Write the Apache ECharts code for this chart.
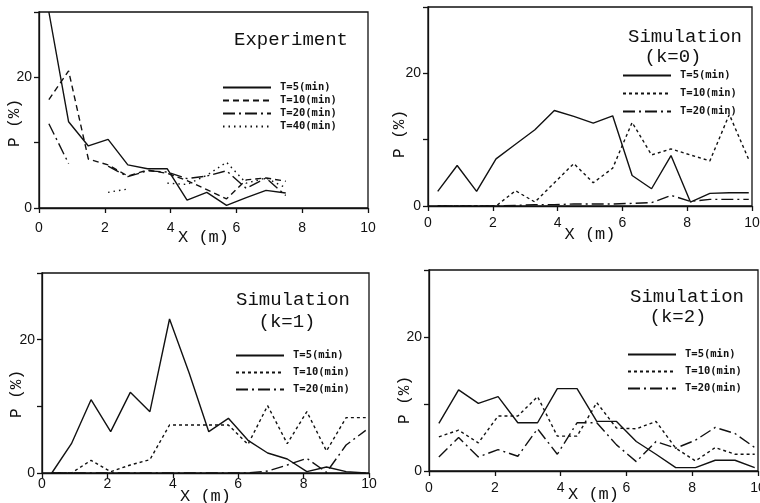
<!DOCTYPE html>
<html>
<head>
<meta charset="utf-8">
<script src="https://cdn.jsdelivr.net/npm/echarts@6/dist/echarts.min.js"></script>
<style>
  html, body { margin: 0; padding: 0; background: #fff; }
  #main { width: 760px; height: 503px; }
</style>
</head>
<body>
<div id="main"></div>
<script>
// measuring positions along the corridor (m)
const xPos = [0.3, 0.9, 1.5, 2.1, 2.7, 3.3, 3.9, 4.5, 5.1, 5.7, 6.3, 6.9, 7.5, 8.1, 8.7, 9.3, 9.9];

// Experiment
const expT5  = [30, 13.2, 9.5, 10.5, 6.6, 6.0, 6.0, 1.2, 2.4, 0.4, 1.6, 2.7, 2.3];
const expT10 = [16.6, 21.0, 7.5, 6.6, 4.9, 5.8, 5.3, 4.2, 2.8, 1.4, 4.3, 4.6, 4.1];
const expT20 = [12.9, 6.8, null, 6.4, 4.8, 5.7, 5.5, 4.5, 4.9, 5.7, 3.0, 4.6, 1.9];
const expT40 = [null, 3.4, null, 2.4, 2.9, null, 3.8, 3.6, 5.0, 7.0, 3.8, 4.6, 3.1];

// Simulation k=0
const k0T5  = [2.2, 6.1, 2.2, 7.1, 9.3, 11.5, 14.4, 13.5, 12.5, 13.6, 4.6, 2.6, 7.6, 0.6, 1.9, 2.0, 2.0];
const k0T10 = [0, 0, 0, 0, 2.3, 0.6, 3.5, 6.4, 3.5, 5.7, 12.6, 7.7, 8.6, 7.7, 6.8, 13.8, 7.0];
const k0T20 = [0, 0, 0, 0, 0.1, 0.2, 0.2, 0.3, 0.3, 0.3, 0.4, 0.5, 1.6, 0.7, 1.0, 1.0, 1.0];

// Simulation k=1
const k1T5  = [0, 4.4, 11.0, 6.2, 12.1, 9.2, 23.1, 15.0, 6.2, 8.2, 4.9, 3.0, 2.1, 0.2, 0.9, 0.2, 0];
const k1T10 = [0, 0, 1.9, 0.2, 1.2, 2.0, 7.2, 7.2, 7.2, 7.2, 4.3, 10.1, 4.4, 9.2, 3.3, 8.3, 8.3];
const k1T20 = [0, 0, 0, 0, 0, 0, 0, 0, 0, 0, 0, 0.3, 1.2, 2.2, 0.1, 4.2, 6.4];

// Simulation k=2
const k2T5  = [7.1, 12.1, 10.1, 11.1, 7.2, 7.2, 12.3, 12.3, 7.4, 7.4, 4.4, 2.5, 0.5, 0.5, 1.6, 1.6, 0.5];
const k2T10 = [5.1, 6.1, 4.2, 8.2, 8.2, 11.1, 5.2, 5.2, 10.2, 6.4, 6.3, 7.4, 3.4, 1.5, 3.5, 2.5, 2.5];
const k2T20 = [2.1, 5.0, 2.1, 3.2, 2.2, 6.3, 2.5, 7.2, 7.2, 3.9, 1.4, 4.4, 3.4, 4.6, 6.5, 5.6, 3.5];

const legendNames = ['T=5(min)', 'T=10(min)', 'T=20(min)', 'T=40(min)'];
const yShownTicks = [0, 20];
const xTicks = [0, 2, 4, 6, 8, 10];

const INK = '#111';
const SOLID = 'solid';
const DASHED = [6, 4];
const DOTTED = [3, 3];
const DASHDOT = [12, 4, 2, 4];
const SPARSE = [1.5, 4];

const grids = [
  { left: 39, top: 12, width: 329, height: 196 },
  { left: 428, top: 7, width: 324, height: 199 },
  { left: 42, top: 273, width: 327, height: 200 },
  { left: 429, top: 270, width: 329, height: 201 }
];
const labelMargins = [13, 10, 4, 10];
const nameGaps = [21, 20, 15, 15];

function pairs(vals) {
  return vals.map((v, i) => [xPos[i], v]);
}
function line(panel, label, g, vals, type) {
  return {
    name: panel + '|' + label,
    type: 'line',
    xAxisIndex: g, yAxisIndex: g,
    data: pairs(vals),
    symbol: 'none',
    connectNulls: false,
    lineStyle: { color: INK, width: 1.4, type: type },
    itemStyle: { color: INK }
  };
}

const series = [
  line('e', legendNames[0], 0, expT5, SOLID),
  line('e', legendNames[1], 0, expT10, DASHED),
  line('e', legendNames[2], 0, expT20, DASHDOT),
  line('e', legendNames[3], 0, expT40, SPARSE),
  line('a', legendNames[0], 1, k0T5, SOLID),
  line('a', legendNames[1], 1, k0T10, DOTTED),
  line('a', legendNames[2], 1, k0T20, DASHDOT),
  line('b', legendNames[0], 2, k1T5, SOLID),
  line('b', legendNames[1], 2, k1T10, DOTTED),
  line('b', legendNames[2], 2, k1T20, DASHDOT),
  line('c', legendNames[0], 3, k2T5, SOLID),
  line('c', legendNames[1], 3, k2T10, DOTTED),
  line('c', legendNames[2], 3, k2T20, DASHDOT)
];

function legend(panel, count, left, top, gap) {
  return {
    orient: 'vertical',
    left: left, top: top, padding: 0,
    itemWidth: 48, itemHeight: 8, itemGap: gap,
    selectedMode: false,
    itemStyle: { opacity: 0 },
    data: legendNames.slice(0, count).map(n => panel + '|' + n),
    formatter: n => n.split('|')[1],
    textStyle: { fontFamily: 'DejaVu Sans Mono', fontSize: 10.5, fontWeight: 'bold', color: INK, lineHeight: 10, padding: [0, 0, 0, 4] }
  };
}

const axisFont = { fontFamily: 'Liberation Sans', fontSize: 14, color: INK };

const option = {
  animation: false,
  backgroundColor: '#fff',
  grid: grids.map(g => Object.assign({ show: true, borderColor: INK, borderWidth: 1.3, containLabel: false, outerBoundsMode: 'none' }, g)),
  xAxis: grids.map((g, i) => ({
    type: 'value', gridIndex: i, min: 0, max: 10, interval: 2,
    name: 'X (m)', nameLocation: 'middle', nameGap: nameGaps[i], nameMoveOverlap: false,
    nameTextStyle: { fontFamily: 'Liberation Mono', fontSize: 17, color: INK },
    axisLine: { lineStyle: { color: INK, width: 1.3 } },
    axisTick: { length: 5, lineStyle: { color: INK, width: 1.3 } },
    axisLabel: Object.assign({ margin: labelMargins[i], formatter: v => xTicks.includes(v) ? String(v) : '' }, axisFont),
    splitLine: { show: false }
  })),
  yAxis: grids.map((g, i) => ({
    type: 'value', gridIndex: i, min: 0, max: 30, interval: 10,
    axisLine: { show: true, lineStyle: { color: INK, width: 1.3 } },
    axisTick: { show: true, length: 5, lineStyle: { color: INK, width: 1.3 } },
    axisLabel: Object.assign({ margin: 7, formatter: v => yShownTicks.includes(v) ? String(v) : '' }, axisFont),
    splitLine: { show: false }
  })),
  legend: [
    legend('e', 4, 222, 82, 2),
    legend('a', 3, 622, 70, 7),
    legend('b', 3, 235, 350, 6),
    legend('c', 3, 627, 349, 6)
  ],
  graphic: [
    ['Experiment', 291, 40],
    ['Simulation', 685, 37], ['(k=0)', 673, 57],
    ['Simulation', 293, 300], ['(k=1)', 287, 322],
    ['Simulation', 687, 297], ['(k=2)', 678, 317]
  ].map(t => ({
    type: 'text', x: t[1], y: t[2],
    style: { text: t[0], fontFamily: 'Liberation Mono', fontSize: 19, fill: INK, align: 'center', verticalAlign: 'middle' }
  })).concat([
    [15, 123], [400, 134], [17, 394], [405, 400]
  ].map(p => ({
    type: 'text', x: p[0], y: p[1], rotation: Math.PI / 2,
    style: { text: 'P (%)', fontFamily: 'Liberation Mono', fontSize: 16, fill: INK, align: 'center', verticalAlign: 'middle' }
  }))),
  series: series
};

const chart = echarts.init(document.getElementById('main'));
chart.setOption(option);
</script>
</body>
</html>
